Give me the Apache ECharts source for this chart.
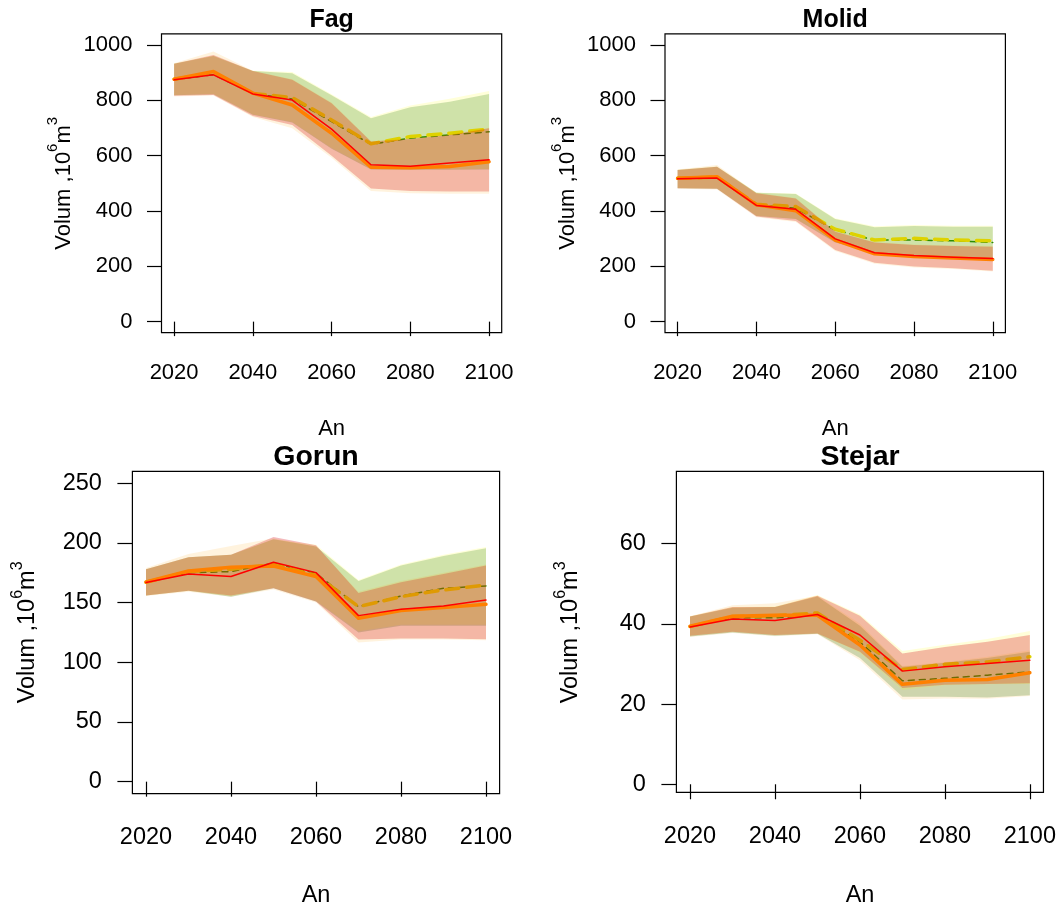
<!DOCTYPE html>
<html><head><meta charset="utf-8">
<script src="https://cdn.jsdelivr.net/npm/echarts@6/dist/echarts.min.js"></script>
<style>html,body{margin:0;padding:0;background:#fff}#c{width:1059px;height:905px}</style>
</head><body><div id="c"></div>
<script>
// ---------- data ----------
const years = [2020, 2030, 2040, 2050, 2060, 2070, 2080, 2090, 2100];
const xTicks = [2020, 2040, 2060, 2080, 2100];

// Fag
const fagRed    = [874, 892, 823, 801, 696, 567, 562, 573, 585];
const fagOrange = [876, 904, 826, 783, 681, 558, 556, 561, 578];
const fagYellow = [876, 900, 825, 810, 729, 643, 669, 681, 696];
const fagGreen  = [874, 893, 824, 805, 723, 641, 663, 675, 686];
const fagRedLo    = [816, 819, 743, 711, 600, 481, 472, 470, 470];
const fagRedHi    = [932, 964, 906, 874, 789, 651, 660, 675, 699];
const fagOrangeLo = [814, 817, 740, 699, 592, 472, 464, 462, 462];
const fagOrangeHi = [934, 976, 907, 876, 792, 653, 662, 677, 701];
const fagGreenLo  = [818, 822, 748, 720, 625, 550, 549, 549, 550];
const fagGreenHi  = [932, 960, 906, 898, 818, 735, 775, 795, 823];
const fagYellowLo = [819, 823, 749, 722, 628, 552, 551, 551, 552];
const fagYellowHi = [933, 961, 907, 902, 822, 740, 781, 806, 834];

// Molid
const molRed    = [516, 519, 420, 406, 299, 249, 239, 233, 228];
const molOrange = [518, 524, 422, 401, 295, 245, 235, 230, 225];
const molYellow = [518, 522, 424, 416, 334, 295, 301, 295, 292];
const molGreen  = [517, 520, 422, 410, 331, 295, 295, 292, 286];
const molRedLo    = [482, 480, 380, 364, 259, 213, 199, 193, 184];
const molRedHi    = [548, 560, 464, 445, 325, 286, 277, 273, 271];
const molOrangeLo = [480, 478, 377, 360, 255, 209, 196, 190, 181];
const molOrangeHi = [550, 566, 466, 447, 327, 288, 279, 275, 273];
const molGreenLo  = [482, 480, 382, 371, 286, 251, 237, 229, 220];
const molGreenHi  = [548, 560, 466, 461, 371, 341, 346, 343, 343];
const molYellowLo = [483, 481, 383, 372, 288, 253, 239, 231, 222];
const molYellowHi = [549, 561, 467, 463, 374, 345, 349, 347, 347];

// Gorun
const gorRed    = [166.8, 174, 171.8, 183.8, 175.1, 139.1, 144.4, 147.2, 152.2];
const gorOrange = [167.3, 176.5, 179.6, 180.7, 171.8, 136.9, 143.3, 145.8, 148.6];
const gorYellow = [167, 176, 178, 182, 173, 146.6, 155, 160.6, 164.8];
const gorGreen  = [167, 175, 176, 183, 174.6, 146.6, 155.6, 162, 164];
const gorRedLo    = [156, 160, 156, 162, 151, 119, 120, 120, 119.3];
const gorRedHi    = [178, 188, 190, 205, 198, 158, 167, 174, 181];
const gorOrangeLo = [155.5, 159, 155, 161, 150, 116.5, 119, 119, 118.5];
const gorOrangeHi = [179, 190.8, 197.5, 204, 197, 159, 168, 175, 182];
const gorGreenLo  = [156, 160, 155, 162, 151, 125, 130.7, 130.7, 130.7];
const gorGreenHi  = [178, 188, 190, 203, 197, 168, 181, 189, 195.5];
const gorYellowLo = [156, 160, 155.5, 162.5, 151.5, 126, 131.5, 131.5, 131.5];
const gorYellowHi = [178, 188, 190, 203, 198.5, 169, 182, 190, 196.5];

// Stejar
const stRed    = [39.2, 41.2, 40.8, 42.3, 37.2, 28.2, 29.3, 30.1, 30.9];
const stOrange = [39.4, 41.9, 42.1, 42.1, 34.7, 24.9, 25.9, 26.1, 27.8];
const stYellow = [39.3, 41.8, 42, 42.7, 35.9, 28.6, 29.9, 30.5, 31.8];
const stGreen  = [39.3, 41.5, 41.5, 42.1, 35.5, 25.8, 26.4, 27.2, 28.0];
const stRedLo    = [37, 38, 37.2, 37.6, 33, 24, 24.8, 25, 25.2];
const stRedHi    = [41.8, 44.2, 44.2, 47, 42, 32.6, 34.2, 35.5, 37.2];
const stOrangeLo = [36.7, 37.7, 36.9, 37.4, 30.9, 21.1, 21.4, 21.3, 22];
const stOrangeHi = [41.9, 44.6, 45.1, 47, 40, 29.5, 30.5, 31.8, 33.4];
const stGreenLo  = [36.8, 37.8, 37, 37.5, 31.5, 21.8, 21.8, 21.6, 22.2];
const stGreenHi  = [41.8, 44, 44.2, 46.8, 39.5, 29.3, 30.3, 31.5, 33];
const stYellowLo = [37, 38, 37.2, 37.6, 32.8, 23.5, 24.7, 24.9, 25];
const stYellowHi = [41.9, 44.2, 44.3, 47.2, 42.3, 33.2, 34.8, 36.2, 38.2];

const yTicksBig = [0, 200, 400, 600, 800, 1000];
const yTicksGor = [0, 50, 100, 150, 200, 250];
const yTicksSt  = [0, 20, 40, 60];
const titles = ['Fag', 'Molid', 'Gorun', 'Stejar'];
const xName = 'An';

// ---------- layout / style ----------
const FONT = '"Liberation Sans", Arial, Helvetica, sans-serif';
const panels = [
  { title: titles[0], left: 161.5, top: 33.9, width: 340.2, height: 298.8, ymin: -40, ymax: 1040, yTicks: yTicksBig,
    fs: 22, tfs: 25, titleY: 20.4, anY: 428.7, ylabX: 63.7, ylabY: 183.3, tick: 14.5, xm: 29.5, ym: 29,
    d: [fagRed, fagOrange, fagYellow, fagGreen, fagRedLo, fagRedHi, fagOrangeLo, fagOrangeHi, fagGreenLo, fagGreenHi, fagYellowLo, fagYellowHi] },
  { title: titles[1], left: 665.0, top: 33.9, width: 340.4, height: 298.8, ymin: -40, ymax: 1040, yTicks: yTicksBig,
    fs: 22, tfs: 25, titleY: 20.4, anY: 428.7, ylabX: 567.5, ylabY: 183.3, tick: 14.5, xm: 29.5, ym: 29,
    d: [molRed, molOrange, molYellow, molGreen, molRedLo, molRedHi, molOrangeLo, molOrangeHi, molGreenLo, molGreenHi, molYellowLo, molYellowHi] },
  { title: titles[2], left: 132.4, top: 471.3, width: 367.2, height: 322.3, ymin: -10, ymax: 260, yTicks: yTicksGor,
    fs: 23.5, tfs: 28.5, titleY: 457.5, anY: 895.2, ylabX: 27.7, ylabY: 632.4, tick: 15, xm: 32, ym: 30.5,
    d: [gorRed, gorOrange, gorYellow, gorGreen, gorRedLo, gorRedHi, gorOrangeLo, gorOrangeHi, gorGreenLo, gorGreenHi, gorYellowLo, gorYellowHi] },
  { title: titles[3], left: 676.4, top: 471.3, width: 367.2, height: 321.0, ymin: -2, ymax: 78, yTicks: yTicksSt,
    fs: 23.5, tfs: 28.5, titleY: 457.5, anY: 895.2, ylabX: 570.5, ylabY: 632.4, tick: 15, xm: 32, ym: 30.5,
    d: [stRed, stOrange, stYellow, stGreen, stRedLo, stRedHi, stOrangeLo, stOrangeHi, stGreenLo, stGreenHi, stYellowLo, stYellowHi] }
];

const C_GREEN_BAND  = 'rgba(0,100,0,0.22)';
const C_YELLOW_BAND = 'rgba(255,255,0,0.15)';
const C_RED_BAND    = 'rgba(212,0,13,0.27)';
const C_ORANGE_BAND = 'rgba(255,165,0,0.13)';

function pairs(v) { return years.map((y, i) => [y, v[i]]); }
const plain = v => String(v);

function band(gi, lo, hi, color, z) {
  return {
    type: 'custom', xAxisIndex: gi, yAxisIndex: gi, z: z, silent: true,
    data: years.map((y, i) => [y, lo[i], hi[i]]),
    encode: { x: 0, y: [1, 2] },
    renderItem: function (params, api) {
      if (params.dataIndex !== 0) return null;
      const pts = [];
      for (let i = 0; i < years.length; i++) pts.push(api.coord([years[i], hi[i]]));
      for (let i = years.length - 1; i >= 0; i--) pts.push(api.coord([years[i], lo[i]]));
      return { type: 'polygon', shape: { points: pts }, style: { fill: color, stroke: null } };
    }
  };
}

function line(gi, v, color, width, dash, z) {
  return {
    type: 'line', xAxisIndex: gi, yAxisIndex: gi, z: z, silent: true,
    data: pairs(v), symbol: 'none', showSymbol: false,
    lineStyle: { color: color, width: width, type: dash || 'solid', cap: 'round', join: 'round' }
  };
}

const grid = [], xAxis = [], yAxis = [], series = [], graphic = [];
panels.forEach((p, gi) => {
  grid.push({ left: p.left, top: p.top, width: p.width, height: p.height, show: true,
    borderColor: '#000', borderWidth: 1.2, backgroundColor: 'transparent', containLabel: false });
  xAxis.push({ type: 'value', gridIndex: gi, min: 2016.8, max: 2103.2,
    axisLine: { show: false }, splitLine: { show: false },
    axisTick: { show: true, length: p.tick, lineStyle: { color: '#000', width: 1.2 }, customValues: xTicks },
    axisLabel: { customValues: xTicks, formatter: plain, margin: p.xm, fontSize: p.fs, lineHeight: p.fs, color: '#000', fontFamily: FONT } });
  yAxis.push({ type: 'value', gridIndex: gi, min: p.ymin, max: p.ymax,
    axisLine: { show: false }, splitLine: { show: false },
    axisTick: { show: true, length: p.tick, lineStyle: { color: '#000', width: 1.2 }, customValues: p.yTicks },
    axisLabel: { customValues: p.yTicks, formatter: plain, margin: p.ym, fontSize: p.fs, color: '#000', fontFamily: FONT } });

  const [r, o, yl, g, rLo, rHi, oLo, oHi, gLo, gHi, yLo, yHi] = p.d;
  series.push(band(gi, gLo, gHi, C_GREEN_BAND, 1));
  series.push(band(gi, yLo, yHi, C_YELLOW_BAND, 2));
  series.push(line(gi, g, '#2E8B00', 1.5, [6, 5], 3));
  series.push(line(gi, yl, '#DED200', 3.5, [13, 8], 3));
  series.push(band(gi, rLo, rHi, C_RED_BAND, 4));
  series.push(band(gi, oLo, oHi, C_ORANGE_BAND, 5));
  series.push(line(gi, o, '#FF8000', 3.5, null, 6));
  series.push(line(gi, r, '#FF0000', 1.5, null, 7));

  const cx = p.left + p.width / 2;
  graphic.push({ type: 'text', x: cx, y: p.titleY, silent: true,
    style: { text: p.title, fontSize: p.tfs, fontWeight: 'bold', fontFamily: FONT, fill: '#000', align: 'center', verticalAlign: 'middle' } });
  graphic.push({ type: 'text', x: cx, y: p.anY, silent: true,
    style: { text: xName, fontSize: p.fs, fontFamily: FONT, fill: '#000', align: 'center', verticalAlign: 'middle' } });
  const sfs = Math.round(p.fs * 0.68);
  graphic.push({ type: 'text', x: p.ylabX, y: p.ylabY, rotation: Math.PI / 2, silent: true,
    style: { text: '{a|Volum ,10}{s|6}{a|m}{s|3}', fontFamily: FONT, fill: '#000', align: 'center', verticalAlign: 'middle',
      rich: {
        a: { fontSize: p.fs, lineHeight: 36, verticalAlign: 'middle', fontFamily: FONT, fill: '#000' },
        s: { fontSize: sfs, lineHeight: sfs, verticalAlign: 'top', fontFamily: FONT, fill: '#000' }
      } } });
});

const chart = echarts.init(document.getElementById('c'), null, { renderer: 'canvas' });
chart.setOption({ animation: false, backgroundColor: '#fff', grid, xAxis, yAxis, series, graphic });
</script>
</body></html>
